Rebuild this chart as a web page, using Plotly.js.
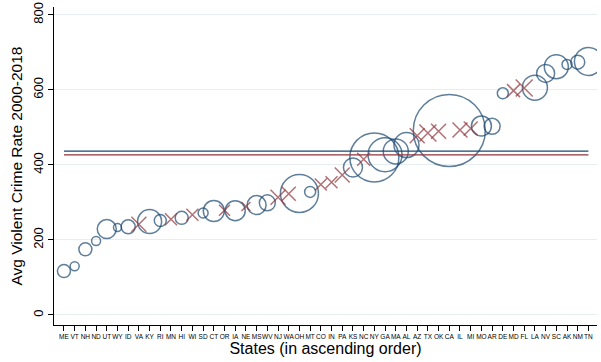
<!DOCTYPE html>
<html>
<head>
<meta charset="utf-8">
<script src="https://cdn.plot.ly/plotly-3.0.1.min.js"></script>
<style>html,body{margin:0;padding:0;background:#fff;}#chart{width:601px;height:362px;}</style>
</head>
<body>
<div id="chart"></div>
<script>
// States in ascending order of average violent crime rate
const states = ["ME","VT","NH","ND","UT","WY","ID","VA","KY","RI","MN","HI","WI","SD","CT","OR","IA","NE","MS","WV","NJ","WA","OH","MT","CO","IN","PA","KS","NC","NY","GA","MA","AL","AZ","TX","OK","CA","IL","MI","MO","AR","DE","MD","FL","LA","NV","SC","AK","NM","TN"];
// Average violent crime rate 2000-2018
const crimeRate = [117,130,175,197,229,233,235,242,249,252,255,259,267,272,277,279,278,289,293,299,314,323,324,328,348,354,373,393,415,420,427,436,453,478,485,490,492,493,497,504,503,591,598,605,606,644,662,668,674,676];
// Group: 1 = circle group, 0 = cross group
const group = [1,1,1,1,1,1,1,0,1,1,0,1,0,1,1,0,1,0,1,1,0,0,1,1,0,0,0,1,0,1,1,1,1,0,0,0,1,0,0,1,1,1,0,0,1,1,1,1,1,1];
// Marker weight
const weight = [13,9,13,9,19,8,14,15,24,12,12,13,12,10,21,11,20,9,19,16,15,14,38,11,12,12,15,19,13,49,34,25,25,15,17,15,72,15,14,20,16,11,13,17,25,18,24,10,14,28];
// Group means
const meanCircle = 437;
const meanCross = 427;

const cx=[],cy=[],cs=[],xx=[],xy=[],xs=[];
states.forEach((s,i)=>{
  if(group[i]===1){cx.push(s);cy.push(crimeRate[i]);cs.push(weight[i]);}
  else{xx.push(s);xy.push(crimeRate[i]);xs.push(weight[i]);}
});

const navy="#1a476f", maroon="#90353b";
const traces=[
  {type:"scatter",mode:"markers",x:cx,y:cy,marker:{symbol:"circle-open",size:cs,color:navy,line:{width:1.5,color:navy}},hoverinfo:"x+y"},
  {type:"scatter",mode:"markers",x:xx,y:xy,marker:{symbol:"x-thin-open",size:xs,color:maroon,line:{width:1.5,color:maroon}},hoverinfo:"x+y"},
  {type:"scatter",mode:"lines",x:[states[0],states[states.length-1]],y:[meanCircle,meanCircle],line:{color:navy,width:1.2},hoverinfo:"skip"},
  {type:"scatter",mode:"lines",x:[states[0],states[states.length-1]],y:[meanCross,meanCross],line:{color:maroon,width:1.2},hoverinfo:"skip"}
];
const layout={
  width:601,height:362,showlegend:false,
  paper_bgcolor:"#fff",plot_bgcolor:"#fff",
  margin:{l:54,r:4,t:7,b:37,pad:0},
  font:{family:"Liberation Sans, Arial, sans-serif",color:"#000"},
  xaxis:{type:"category",categoryorder:"array",categoryarray:states,range:[-0.93,49.8],
    showgrid:false,zeroline:false,showline:true,linecolor:"#000",linewidth:1,
    ticks:"outside",ticklen:5,tickwidth:1,tickcolor:"#000",tickangle:0,
    tickfont:{size:6.5,color:"#000"},
    title:{text:"States (in ascending order)",font:{size:16},standoff:2}},
  yaxis:{range:[-26.7,821],tickvals:[0,200,400,600,800],ticktext:["0","200","400","600","800"],
    showgrid:true,gridcolor:"#e6eef0",gridwidth:1,zeroline:false,showline:true,linecolor:"#000",linewidth:1,
    ticks:"outside",ticklen:5,tickwidth:1,tickcolor:"#000",tickangle:-90,
    tickfont:{size:13,color:"#000"},
    title:{text:"Avg Violent Crime Rate 2000-2018",font:{size:15.5},standoff:4}}
};
Plotly.newPlot("chart",traces,layout,{staticPlot:true,displayModeBar:false});
</script>
</body>
</html>
